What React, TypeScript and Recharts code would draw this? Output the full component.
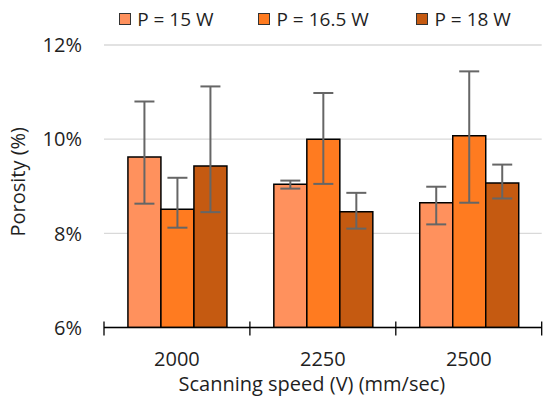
import React from "react";
import { BarChart, Bar, XAxis, YAxis, CartesianGrid, ErrorBar, Legend } from "recharts";

const categories = ["2000", "2250", "2500"];
const seriesNames = ["P = 15 W", "P = 16.5 W", "P = 18 W"];
const seriesColors = ["#FF915D", "#FF7B20", "#C55A11"];

const p15Values = [9.62, 9.04, 8.65];
const p165Values = [8.51, 10.0, 10.07];
const p18Values = [9.43, 8.46, 9.07];

// asymmetric error deltas [below, above]
const p15Errors = [[0.99, 1.18], [0.09, 0.08], [0.46, 0.34]];
const p165Errors = [[0.39, 0.67], [0.95, 0.98], [1.42, 1.37]];
const p18Errors = [[0.98, 1.69], [0.36, 0.4], [0.33, 0.39]];

const yTicks = [6, 8, 10, 12];

const data = categories.map((c, i) => ({
  cat: c,
  p15: p15Values[i],
  p165: p165Values[i],
  p18: p18Values[i],
  e15: p15Errors[i],
  e165: p165Errors[i],
  e18: p18Errors[i],
}));

const FONT = "'Open Sans', sans-serif";
const TEXT = "#1f1f1f";
const X_TICK_MARGIN = 24;

const legendLefts = [118.7, 258, 416];

const LegendContent = () => (
  <div style={{ position: "relative", width: 550, height: 40, fontFamily: FONT }}>
    {seriesNames.map((n, i) => (
      <div key={n} style={{ position: "absolute", left: legendLefts[i], top: 8, display: "flex", alignItems: "center", height: 22 }}>
        <span style={{ display: "inline-block", width: 12, height: 12, boxSizing: "border-box", border: "1px solid #333", background: seriesColors[i], marginRight: 6.5 }} />
        <span style={{ fontSize: 19, color: TEXT, lineHeight: "22px", whiteSpace: "nowrap" }}>{n}</span>
      </div>
    ))}
  </div>
);

const XTick = (props: any) => {
  const { x, y, payload, index, visibleTicksCount } = props;
  const half = payload && typeof payload.offset === "number" ? payload.offset : 0;
  const axisY = y - X_TICK_MARGIN;
  return (
    <g>
      {half > 0 && (
        <line x1={x - half} x2={x - half} y1={axisY - 6} y2={axisY + 8} stroke="#000" strokeWidth={1.3} />
      )}
      {half > 0 && index === visibleTicksCount - 1 && (
        <line x1={x + half} x2={x + half} y1={axisY - 6} y2={axisY + 8} stroke="#000" strokeWidth={1.3} />
      )}
      <text x={x} y={y + 14.2} textAnchor="middle" fontFamily={FONT} fontSize={20} fill={TEXT}>
        {payload.value}
      </text>
    </g>
  );
};

const YTick = (props: any) => {
  const { x, y, payload } = props;
  return (
    <text x={x - 14} y={y} dy="0.36em" textAnchor="end" fontFamily={FONT} fontSize={20} fill={TEXT}>
      {`${payload.value}%`}
    </text>
  );
};

const YLabel = (props: any) => {
  const vb = props.viewBox;
  const cx = vb.x + 17.5;
  const cy = vb.y + vb.height / 2 - 4.5;
  return (
    <text x={cx} y={cy} transform={`rotate(-90, ${cx}, ${cy})`} textAnchor="middle" dominantBaseline="central" fontFamily={FONT} fontSize={20} fill={TEXT}>
      Porosity (%)
    </text>
  );
};

const XLabel = (props: any) => {
  const vb = props.viewBox;
  const cx = vb.x + vb.width / 2 - 11;
  const cy = vb.y + 63;
  return (
    <text x={cx} y={cy} textAnchor="middle" fontFamily={FONT} fontSize={20} fill={TEXT}>
      Scanning speed (V) (mm/sec)
    </text>
  );
};

export default function App() {
  return (
    <div style={{ position: "absolute", left: 0, top: 0, width: 550, height: 404, background: "#fff" }}>
      <BarChart
        width={550}
        height={404}
        data={data}
        margin={{ top: 45, right: 8.3, bottom: 0, left: 0 }}
        barCategoryGap="16.4%"
        barGap={0}
      >
        <CartesianGrid horizontal={true} vertical={false} stroke="#d9d9d9" strokeWidth={1.3} />
        <XAxis
          dataKey="cat"
          height={76.5}
          axisLine={{ stroke: "#000", strokeWidth: 1.3 }}
          tickLine={false}
          tickSize={0}
          tickMargin={X_TICK_MARGIN}
          tick={<XTick />}
          interval={0}
          label={{ content: <XLabel /> }}
        />
        <YAxis
          width={104}
          domain={[6, 12]}
          ticks={yTicks}
          allowDataOverflow
          axisLine={false}
          tickLine={false}
          tick={<YTick />}
          label={{ content: <YLabel /> }}
        />
        <Legend
          layout="horizontal"
          verticalAlign="middle"
          align="center"
          wrapperStyle={{ top: 0, left: 0, width: 550, height: 40 }}
          content={<LegendContent />}
        />
        <Bar dataKey="p15" name={seriesNames[0]} fill={seriesColors[0]} stroke="#000" strokeWidth={1.5} isAnimationActive={false}>
          <ErrorBar dataKey="e15" width={10} stroke="#666" strokeWidth={2} />
        </Bar>
        <Bar dataKey="p165" name={seriesNames[1]} fill={seriesColors[1]} stroke="#000" strokeWidth={1.5} isAnimationActive={false}>
          <ErrorBar dataKey="e165" width={10} stroke="#666" strokeWidth={2} />
        </Bar>
        <Bar dataKey="p18" name={seriesNames[2]} fill={seriesColors[2]} stroke="#000" strokeWidth={1.5} isAnimationActive={false}>
          <ErrorBar dataKey="e18" width={10} stroke="#666" strokeWidth={2} />
        </Bar>
      </BarChart>
    </div>
  );
}
